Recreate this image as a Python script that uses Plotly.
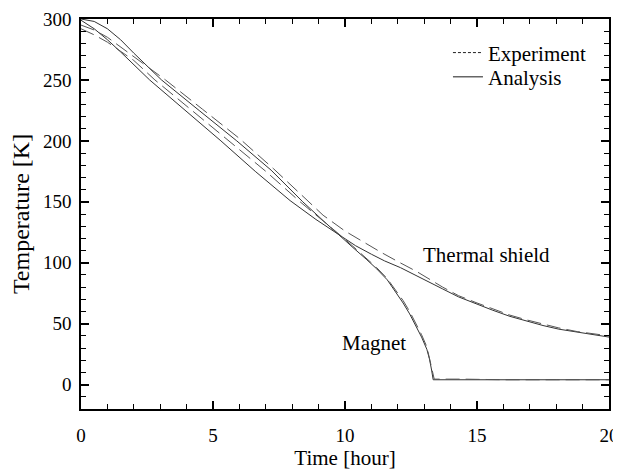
import plotly.graph_objects as go

# Magnet - analysis (solid)
t_mag_ana = [0, 0.5, 1, 1.5, 2, 3.05, 4.5, 5.9, 7.2, 8.4, 9.2, 9.8, 10.3, 10.8, 11.2, 11.6, 11.9, 12.2, 12.45, 12.7, 12.9, 13.1, 13.2, 13.28, 13.34, 20]
T_mag_ana = [300, 298, 292, 283, 272, 250, 224.5, 200, 176, 150, 134, 122, 112.5, 103, 95, 86, 77, 67, 58, 48, 39, 29, 21, 12, 4, 4]

# Magnet - experiment (dashed)
t_mag_exp = [0, 0.5, 1, 1.35, 2, 2.8, 4.2, 5.64, 7, 8.3, 9.1, 9.8, 10.3, 10.8, 11.2, 11.6, 11.9, 12.2, 12.45, 12.7, 12.9, 13.1, 13.2, 13.3, 13.38, 14.5, 16, 18, 20]
T_mag_exp = [292, 287, 281, 276, 266, 250, 225, 200, 175, 150, 136, 123, 113.5, 104, 96, 87, 78, 69, 60, 50, 41, 31, 22, 12, 4.5, 4.5, 4, 4, 4]

# Thermal shield - analysis (solid)
t_sh_ana = [0, 0.5, 1, 1.5, 2.6, 3.95, 5.3, 6.6, 7.92, 8.9, 9.8, 10.4, 11, 11.5, 12.1, 12.9, 13.7, 14.3, 15, 15.6, 16.25, 16.9, 17.5, 18.1, 18.8, 19.4, 20]
T_sh_ana = [299, 292, 283, 273, 250, 225, 200, 175, 151, 135.5, 122.5, 114, 107, 101.5, 96, 87, 78.5, 72, 66, 61, 56, 52, 48.5, 45.5, 43, 41, 39]

# Thermal shield - experiment (dashed)
t_sh_exp = [0, 0.5, 1, 2, 3.2, 4.6, 6.0, 7.3, 8.6, 9.17, 10, 10.7, 11.33, 12, 12.7, 13.7, 14.3, 15, 15.6, 16.25, 16.9, 17.5, 18.1, 18.8, 19.4, 20]
T_sh_exp = [295, 291, 285, 269, 250, 226, 202, 177, 151, 139, 126, 117, 109, 101, 93, 80, 73, 67, 62, 57, 53, 49.5, 46.5, 43.5, 41.5, 40]

x_ticks = [0, 5, 10, 15, 20]
y_ticks = [0, 50, 100, 150, 200, 250, 300]

FONT = "Liberation Serif"
SOLID = "#333333"
DASHC = "#555555"

fig = go.Figure()
for tx, ty in [(t_mag_ana, T_mag_ana), (t_sh_ana, T_sh_ana)]:
    fig.add_trace(go.Scatter(x=tx, y=ty, mode="lines", showlegend=False,
                             line=dict(color=SOLID, width=1)))
for tx, ty in [(t_mag_exp, T_mag_exp), (t_sh_exp, T_sh_exp)]:
    fig.add_trace(go.Scatter(x=tx, y=ty, mode="lines", showlegend=False,
                             line=dict(color=DASHC, width=1, dash="14px,6px")))

# legend entries (each in its own legend box for exact placement)
fig.add_trace(go.Scatter(x=[None], y=[None], mode="lines", name="Experiment",
                         legend="legend",
                         line=dict(color="#222222", width=1, dash="3px,2px")))
fig.add_trace(go.Scatter(x=[None], y=[None], mode="lines", name="Analysis",
                         legend="legend2",
                         line=dict(color="#666666", width=1.5)))

fig.add_annotation(x=15.35, y=106, text="Thermal shield", showarrow=False,
                   font=dict(family=FONT, size=21, color="black"))
fig.add_annotation(x=11.1, y=34.5, text="Magnet", showarrow=False,
                   font=dict(family=FONT, size=21, color="black"))

axis_common = dict(showgrid=False, zeroline=False, showline=True, linecolor="black",
                   linewidth=1.5, mirror="allticks", ticks="inside", ticklen=8,
                   tickcolor="black", tickwidth=1.5, automargin=False,
                   tickfont=dict(family=FONT, size=19, color="black"))

fig.update_xaxes(range=[0, 20], tickmode="array", tickvals=x_ticks,
                 ticktext=[str(v) for v in x_ticks], ticklabelstandoff=8,
                 minor=dict(dtick=1, ticklen=5, ticks="inside", tickcolor="black", tickwidth=1),
                 title=dict(text="Time [hour]", font=dict(family=FONT, size=21, color="black"), standoff=4),
                 **axis_common)
fig.update_yaxes(range=[-20, 300], tickmode="array", tickvals=y_ticks,
                 ticktext=[str(v) for v in y_ticks], ticklabelstandoff=4,
                 minor=dict(tick0=0, dtick=10, ticklen=5, ticks="inside", tickcolor="black", tickwidth=1),
                 title=dict(text="Temperature [K]", font=dict(family=FONT, size=24, color="black"), standoff=8),
                 **axis_common)

legend_style = dict(xanchor="left", yanchor="middle",
                    bgcolor="rgba(0,0,0,0)", borderwidth=0,
                    font=dict(family=FONT, size=21, color="black"),
                    tracegroupgap=0, itemwidth=30)

fig.update_layout(
    width=613, height=465,
    margin=dict(l=73, r=12, t=11, b=64),
    plot_bgcolor="white", paper_bgcolor="white",
    font=dict(family=FONT, color="black"),
    legend=dict(x=0.695, y=0.913, **legend_style),
    legend2=dict(x=0.695, y=0.851, **legend_style),
)

fig.write_html("out.html")
